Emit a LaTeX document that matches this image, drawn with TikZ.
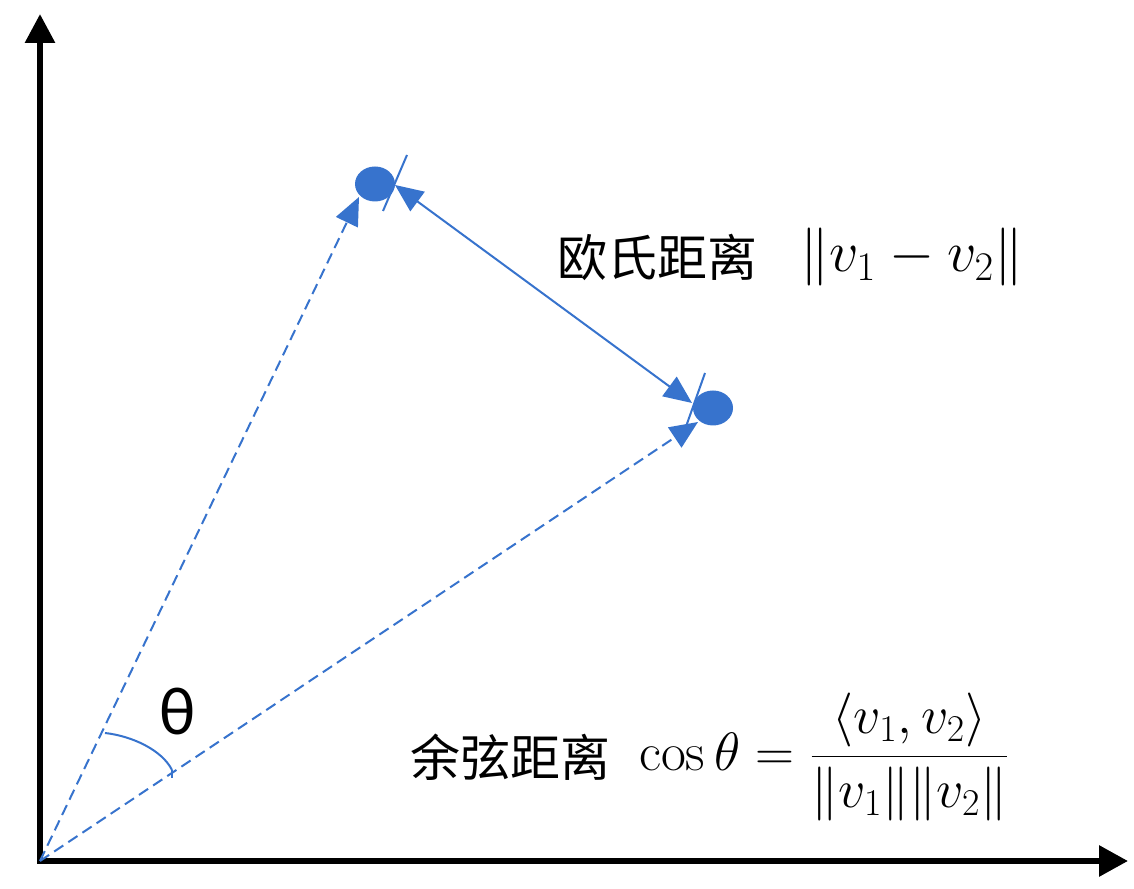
\RequirePackage{fix-cm}
\documentclass[tikz,border=0pt]{standalone}
\usepackage{fontspec}
\newfontfamily\cjk{Noto Sans CJK SC}
\newfontfamily\calibri{Carlito}
\usetikzlibrary{arrows.meta,positioning,shapes.geometric}
\definecolor{ptblue}{RGB}{55,115,205}
\tikzset{
	axis/.style={line width=3pt,line join=miter,{Triangle[length=14.5pt,width=14.5pt]}-{Triangle[length=14.5pt,width=15pt]}},
	vecline/.style={ptblue,line width=1pt,dash pattern=on 5.5pt off 3pt,-{Triangle[length=14pt,width=12pt]}},
	distline/.style={ptblue,line width=1pt,{Triangle[length=14pt,width=12pt]}-{Triangle[length=14pt,width=12pt]}},
	dot/.style={ellipse,fill=ptblue,inner sep=0pt,minimum width=20pt,minimum height=17.5pt},
	hanzi/.style={inner sep=0pt,font=\cjk\fontsize{25}{30}\selectfont},
	formula/.style={inner sep=0pt,font=\fontsize{29}{34}\selectfont}
}
\begin{document}
\begin{tikzpicture}[line cap=butt,x=0.5pt,y=0.5pt]
	\useasboundingbox (0,0) rectangle (1134,888);
	\coordinate (O) at (40,27);
	\coordinate (ytip) at (40,874);
	\coordinate (xtip) at (1128,27);
	\draw[axis] (ytip) -- (O) -- (xtip);
	\node[dot] (v1) at (375,704) {};
	\node[dot] (v2) at (713,480) {};
	\coordinate (t1) at (359,691);
	\coordinate (t2) at (698,466);
	\draw[vecline] (O) -- (t1);
	\draw[vecline] (O) -- (t2);
	\coordinate (e1) at (395,703);
	\coordinate (e2) at (692,485);
	\draw[distline] (e1) -- (e2);
	\draw[ptblue,line width=1pt] (407,733) -- (383,677);
	\draw[ptblue,line width=1pt] (705,515) -- (683,453);
	\coordinate (a1) at (105,155);
	\coordinate (a2) at (172,118);
	\draw[ptblue,line width=1pt] (a1) .. controls (132,152) and (162,138) .. (a2);
	\draw[ptblue,line width=1pt] (a2) -- ++(0,-8);
	\node[font=\calibri\fontsize{34}{40}\selectfont] (theta) at (178,176) {θ};
	\node[hanzi,anchor=west] (ou) at (557,631) {欧氏距离};
	\node[formula,right=21pt of ou] (dist) {$\|v_1-v_2\|$};
	\node[hanzi,anchor=west] (yu) at (410,131) {余弦距离};
	\node[formula,font=\fontsize{27}{32}\selectfont,right=14pt of yu] (cosf) {$\cos\theta=\displaystyle\frac{\langle v_1,v_2\rangle}{\|v_1\|\|v_2\|}$};
\end{tikzpicture}
\end{document}
